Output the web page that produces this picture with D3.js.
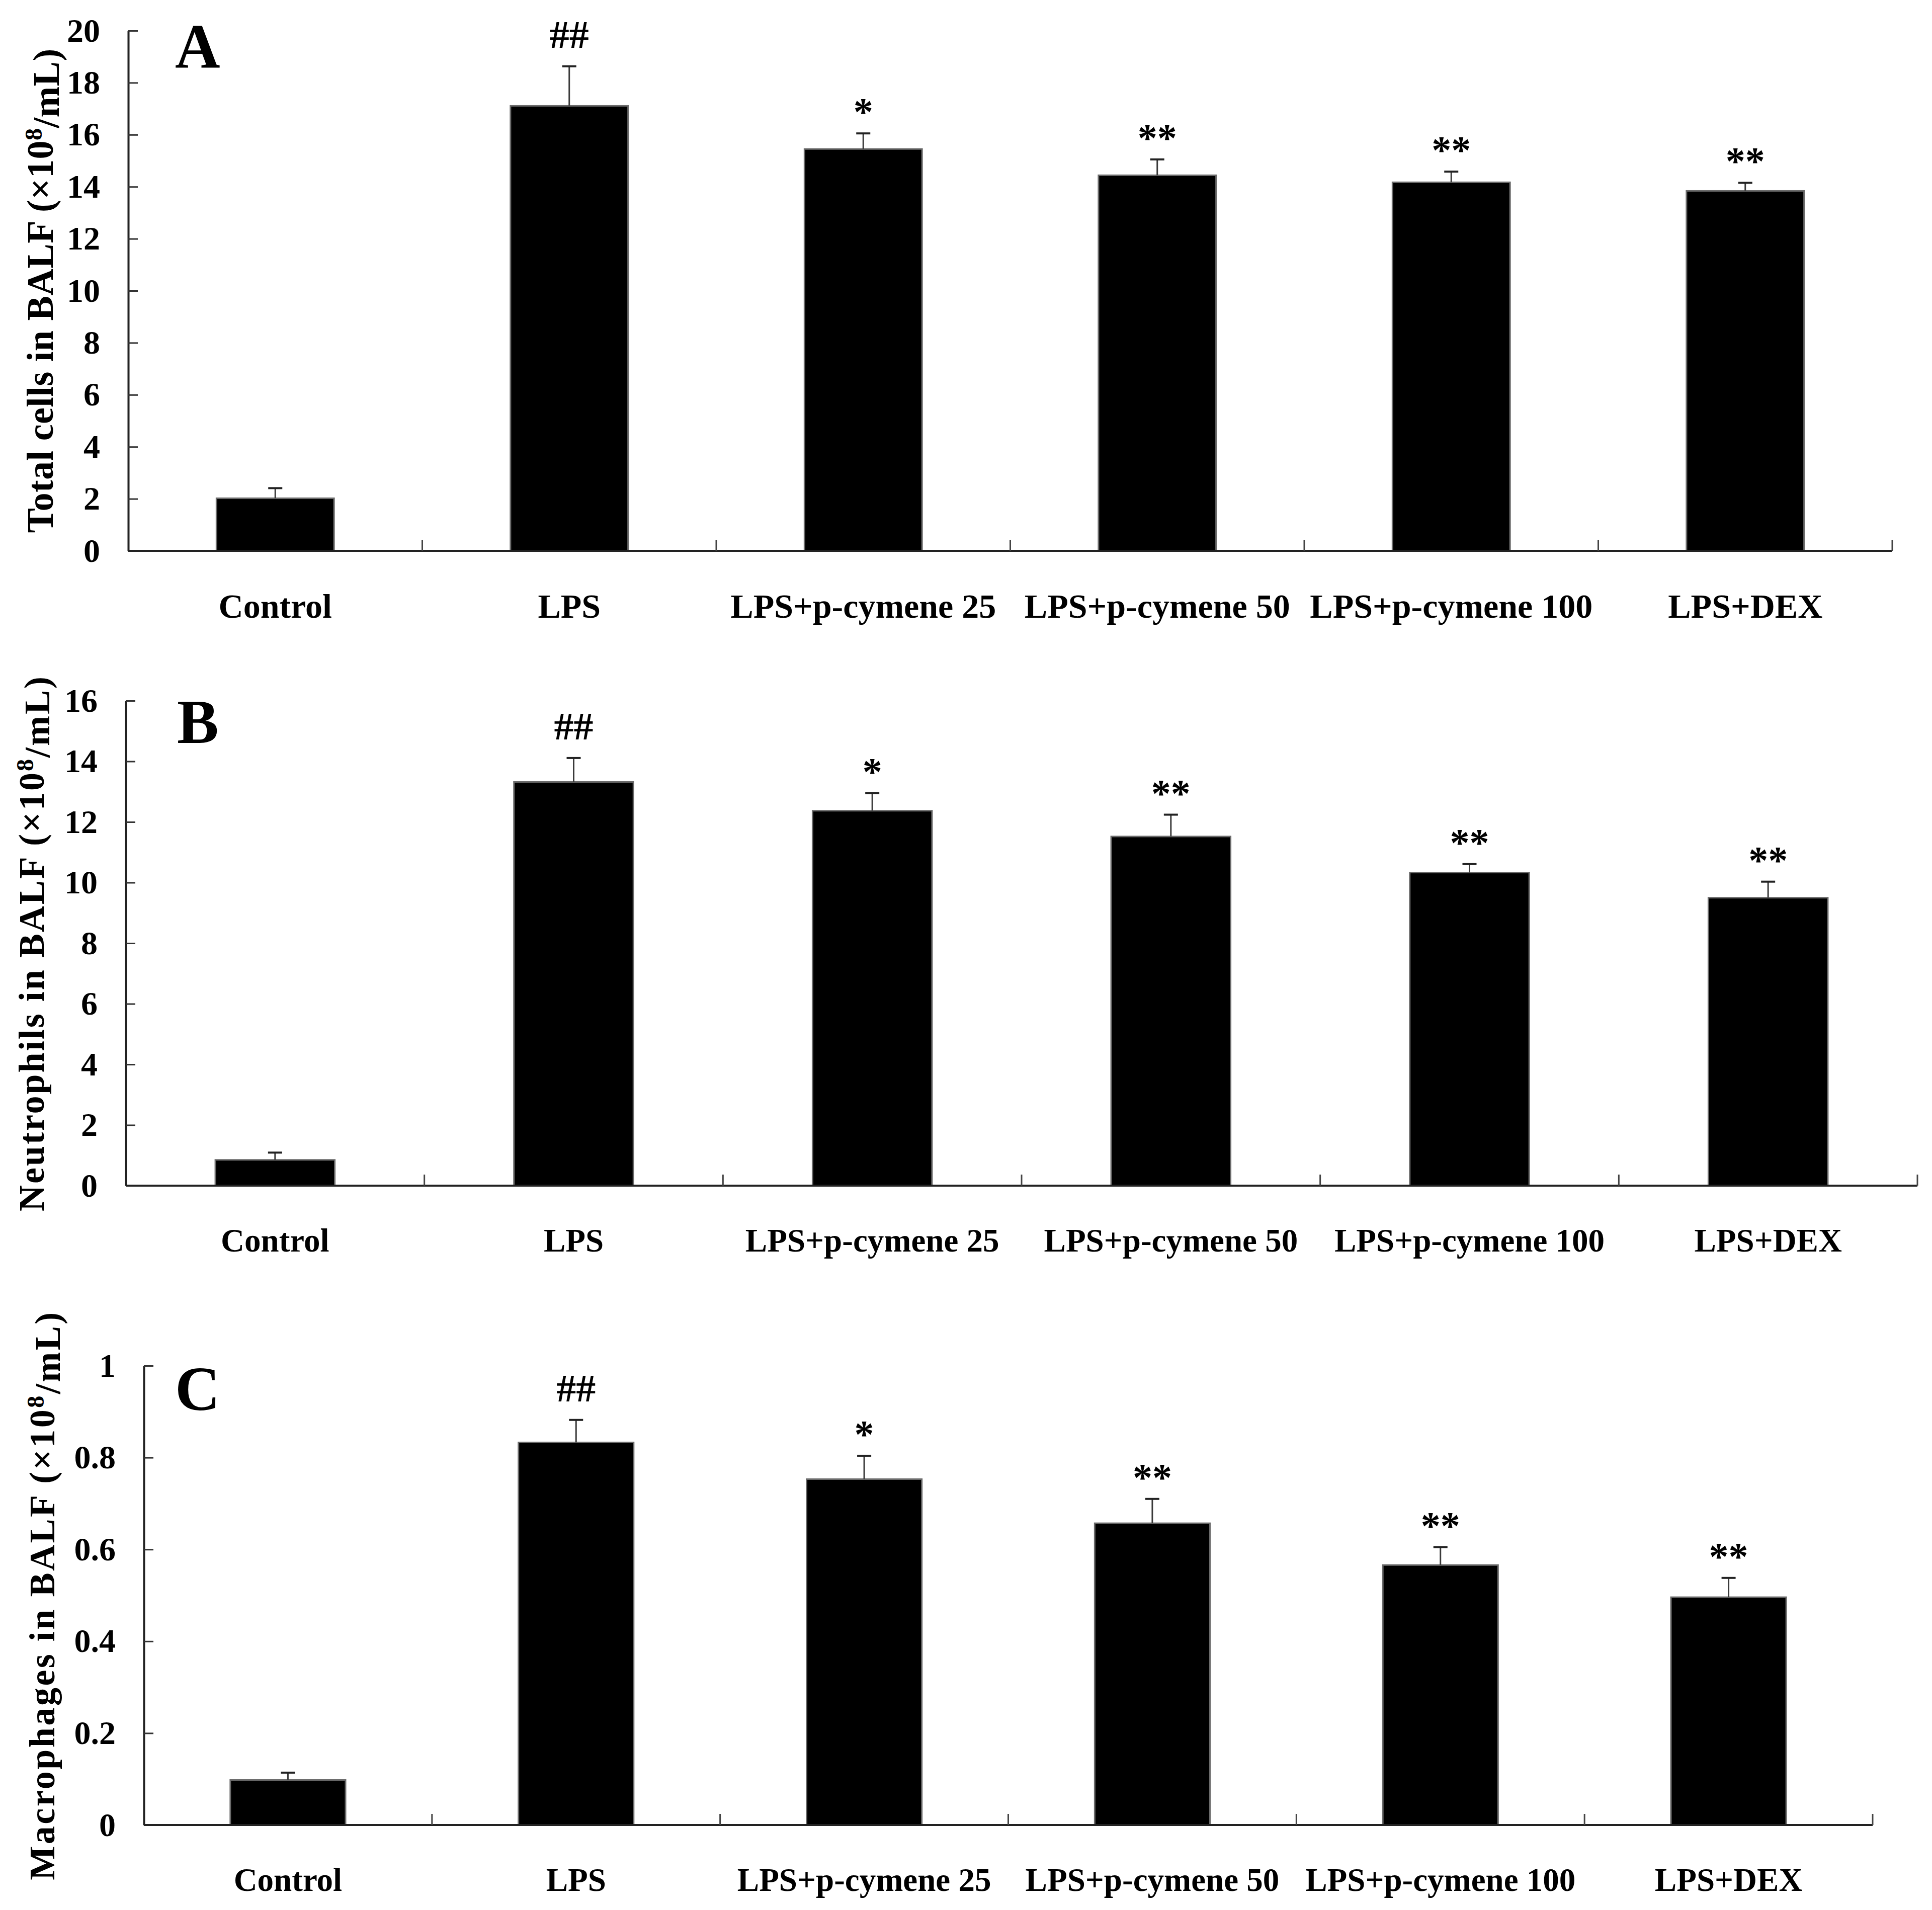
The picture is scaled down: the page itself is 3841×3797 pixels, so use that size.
<!DOCTYPE html>
<html>
<head>
<meta charset="utf-8">
<script src="https://cdn.jsdelivr.net/npm/d3@7"></script>
<style>
  body { margin: 0; background: #fff; }
  svg { display: block; }
  text { font-family: "Liberation Serif", "Times New Roman", serif; font-weight: bold; fill: #000; }
</style>
</head>
<body>
<div id="chart"></div>
<script>
// groups on the x axis (same for all three panels)
const categories = ["Control", "LPS", "LPS+p-cymene 25", "LPS+p-cymene 50", "LPS+p-cymene 100", "LPS+DEX"];

// A: total cells
const totalMean = [2.02, 17.11, 15.45, 14.44, 14.17, 13.84];
const totalErr = [0.39, 1.52, 0.60, 0.61, 0.41, 0.31];
const totalTicks = [0, 2, 4, 6, 8, 10, 12, 14, 16, 18, 20];

// B: neutrophils
const neutroMean = [0.85, 13.32, 12.37, 11.52, 10.33, 9.50];
const neutroErr = [0.24, 0.79, 0.58, 0.72, 0.28, 0.53];
const neutroTicks = [0, 2, 4, 6, 8, 10, 12, 14, 16];

// C: macrophages
const macroMean = [0.098, 0.833, 0.753, 0.657, 0.566, 0.496];
const macroErr = [0.016, 0.049, 0.051, 0.053, 0.039, 0.042];
const macroTicks = [0, 0.2, 0.4, 0.6, 0.8, 1];

// significance marks above the bars
const marks = ["", "##", "*", "**", "**", "**"];

const width = 3841;
const height = 3797;

const panels = [
  { letter: "A", title: "Total cells in BALF", mean: totalMean, err: totalErr, ticks: totalTicks,
    left: 255, right: 3762, top: 61, bottom: 1095, titleX: 79, titleSize: 74, titleSpacing: 0.5,
    catSize: 68, labelX: 348, labelY: 134 },
  { letter: "B", title: "Neutrophils in BALF", mean: neutroMean, err: neutroErr, ticks: neutroTicks,
    left: 250, right: 3812, top: 1393, bottom: 2357, titleX: 62, titleSize: 72, titleSpacing: 3,
    catSize: 65, labelX: 352, labelY: 1477 },
  { letter: "C", title: "Macrophages in BALF", mean: macroMean, err: macroErr, ticks: macroTicks,
    left: 286, right: 3723, top: 2715, bottom: 3628, titleX: 83, titleSize: 72, titleSpacing: 3.5,
    catSize: 65, labelX: 348, labelY: 2803 }
];

const svg = d3
  .select("#chart")
  .append("svg")
  .attr("width", width)
  .attr("height", height);

svg.append("rect").attr("width", width).attr("height", height).attr("fill", "#fff");

panels.forEach((p) => {
  const g = svg.append("g");

  const x = d3
    .scaleBand()
    .domain(categories)
    .range([p.left, p.right])
    .paddingInner(0.6)
    .paddingOuter(0.3);

  const yMax = p.ticks[p.ticks.length - 1];
  const y = d3.scaleLinear().domain([0, yMax]).range([p.bottom, p.top]);

  // bars
  g.selectAll("rect.bar")
    .data(p.mean)
    .enter()
    .append("rect")
    .attr("class", "bar")
    .attr("x", (d, i) => x(categories[i]))
    .attr("y", (d) => y(d))
    .attr("width", x.bandwidth())
    .attr("height", (d) => p.bottom - y(d))
    .attr("fill", "#000")
    .attr("stroke", "#6b6b6b")
    .attr("stroke-width", 3);

  // error bars (upper half only)
  const cx = (i) => x(categories[i]) + x.bandwidth() / 2;
  g.selectAll("line.err")
    .data(p.mean)
    .enter()
    .append("line")
    .attr("x1", (d, i) => cx(i))
    .attr("x2", (d, i) => cx(i))
    .attr("y1", (d) => y(d))
    .attr("y2", (d, i) => y(d + p.err[i]))
    .attr("stroke", "#3a3a3a")
    .attr("stroke-width", 3);

  g.selectAll("line.cap")
    .data(p.mean)
    .enter()
    .append("line")
    .attr("x1", (d, i) => cx(i) - 14)
    .attr("x2", (d, i) => cx(i) + 14)
    .attr("y1", (d, i) => y(d + p.err[i]))
    .attr("y2", (d, i) => y(d + p.err[i]))
    .attr("stroke", "#222")
    .attr("stroke-width", 4);

  // ## and * marks
  g.selectAll("text.mark")
    .data(p.mean)
    .enter()
    .append("text")
    .attr("x", (d, i) => cx(i))
    .attr("y", (d, i) => y(d + p.err[i]) - (marks[i].startsWith("#") ? 37 : 17))
    .attr("text-anchor", "middle")
    .style("font-size", "78px")
    .text((d, i) => marks[i]);

  // y axis, ticks pointing inward
  const yAxis = d3
    .axisLeft(y)
    .tickValues(p.ticks)
    .tickFormat(d3.format("~g"))
    .tickSizeInner(-19)
    .tickSizeOuter(0)
    .tickPadding(56);

  const ya = g.append("g").attr("transform", `translate(${p.left},0)`).call(yAxis);
  ya.select(".domain").attr("stroke", "#222").attr("stroke-width", 4);
  ya.selectAll(".tick line").attr("stroke", "#333").attr("stroke-width", 3);
  ya.selectAll(".tick text")
    .attr("fill", "#000")
    .style("font-family", '"Liberation Serif", serif')
    .style("font-weight", "bold")
    .style("font-size", "66px");

  // x axis: labels under bar centres
  const xAxis = d3.axisBottom(x).tickSize(0).tickPadding(85);
  const xa = g.append("g").attr("transform", `translate(0,${p.bottom})`).call(xAxis);
  xa.select(".domain").remove();
  xa.selectAll(".tick text")
    .attr("fill", "#000")
    .style("font-family", '"Liberation Serif", serif')
    .style("font-weight", "bold")
    .style("font-size", p.catSize + "px");

  g.append("line")
    .attr("x1", p.left)
    .attr("x2", p.right)
    .attr("y1", p.bottom)
    .attr("y2", p.bottom)
    .attr("stroke", "#222")
    .attr("stroke-width", 4);

  // short ticks between groups
  g.selectAll("line.sep")
    .data(categories.slice(1).concat(["end"]))
    .enter()
    .append("line")
    .attr("x1", (d, i) => p.left + (i + 1) * x.step())
    .attr("x2", (d, i) => p.left + (i + 1) * x.step())
    .attr("y1", p.bottom)
    .attr("y2", p.bottom - 22)
    .attr("stroke", "#444")
    .attr("stroke-width", 3);

  // y title
  const t = g
    .append("text")
    .attr("transform", `translate(${p.titleX},${(p.top + p.bottom) / 2}) rotate(-90)`)
    .attr("dy", "0.35em")
    .attr("text-anchor", "middle")
    .style("font-size", p.titleSize + "px")
    .style("letter-spacing", p.titleSpacing + "px");
  t.append("tspan").text(p.title + " (×10");
  t.append("tspan").attr("dy", "-0.45em").style("font-size", "48px").text("8");
  t.append("tspan").attr("dy", "0.45em").text("/mL)");

  // panel letter
  g.append("text")
    .attr("x", p.labelX)
    .attr("y", p.labelY)
    .style("font-size", "124px")
    .text(p.letter);
});
</script>
</body>
</html>
